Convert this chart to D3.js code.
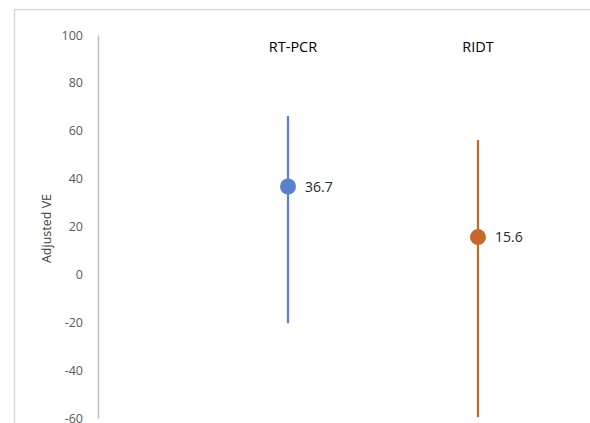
<!DOCTYPE html>
<html>
<head>
<meta charset="utf-8">
<script src="https://cdn.jsdelivr.net/npm/d3@7"></script>
<style>
  body { margin: 0; background: #fff; }
  text { font-family: "Open Sans", "Liberation Sans", sans-serif; }
</style>
</head>
<body>
<div id="chart"></div>
<script>
// Data
const tests = ['RT-PCR', 'RIDT'];
const estimates = [36.7, 15.6];
const lowerCI = [-20.4, -59.7];
const upperCI = [66.2, 56.1];
const colors = ['#5b7fcf', '#c5682b'];
const yTicks = [100, 80, 60, 40, 20, 0, -20, -40, -60];

const width = 590, height = 423;
const svg = d3.select('#chart').append('svg')
  .attr('width', width)
  .attr('height', height);

// chart area frame (only top and left edges visible)
svg.append('path')
  .attr('d', `M14.5,${height} V9.5 H${width}`)
  .attr('fill', 'none')
  .attr('stroke', '#d9d9d9')
  .attr('stroke-width', 1.5);

const y = d3.scaleLinear().domain([-60, 100]).range([418, 35]);
const x = d3.scalePoint().domain(tests).range([288, 478]);

// y axis, plain hyphen for negatives like the original
const yAxis = svg.append('g')
  .attr('transform', 'translate(98,0)')
  .call(d3.axisLeft(y).tickValues(yTicks).tickSize(0).tickPadding(15).tickFormat(d => String(d)));
yAxis.select('.domain').attr('stroke', '#bfbfbf').attr('stroke-width', 1.5);
yAxis.selectAll('text')
  .attr('fill', '#595959')
  .style('font-size', '12.5px');

svg.append('text')
  .attr('transform', `translate(51,${(y(40) + y(0)) / 2 + 2}) rotate(-90)`)
  .attr('text-anchor', 'middle')
  .attr('fill', '#404040')
  .style('font-size', '12.5px')
  .text('Adjusted VE');

const data = tests.map((t, i) => ({ test: t, est: estimates[i], lo: lowerCI[i], hi: upperCI[i], color: colors[i] }));

// category labels above each estimate
svg.selectAll('.cat')
  .data(data)
  .enter().append('text')
  .attr('x', (d, i) => x(d.test) + (i === 0 ? 5 : 0))
  .attr('y', 52)
  .attr('text-anchor', 'middle')
  .attr('fill', '#000')
  .style('font-size', '14.5px')
  .text(d => d.test);

// confidence intervals
svg.selectAll('.ci')
  .data(data)
  .enter().append('line')
  .attr('x1', d => x(d.test))
  .attr('x2', d => x(d.test))
  .attr('y1', d => y(d.hi))
  .attr('y2', d => y(d.lo))
  .attr('stroke', d => d.color)
  .attr('stroke-width', 2.2);

// point estimates
svg.selectAll('.pt')
  .data(data)
  .enter().append('circle')
  .attr('cx', d => x(d.test))
  .attr('cy', d => y(d.est))
  .attr('r', 8)
  .attr('fill', d => d.color);

svg.selectAll('.val')
  .data(data)
  .enter().append('text')
  .attr('x', d => x(d.test) + 17)
  .attr('y', d => y(d.est) + 5)
  .attr('fill', '#262626')
  .style('font-size', '14px')
  .text(d => d.est.toFixed(1));
</script>
</body>
</html>
